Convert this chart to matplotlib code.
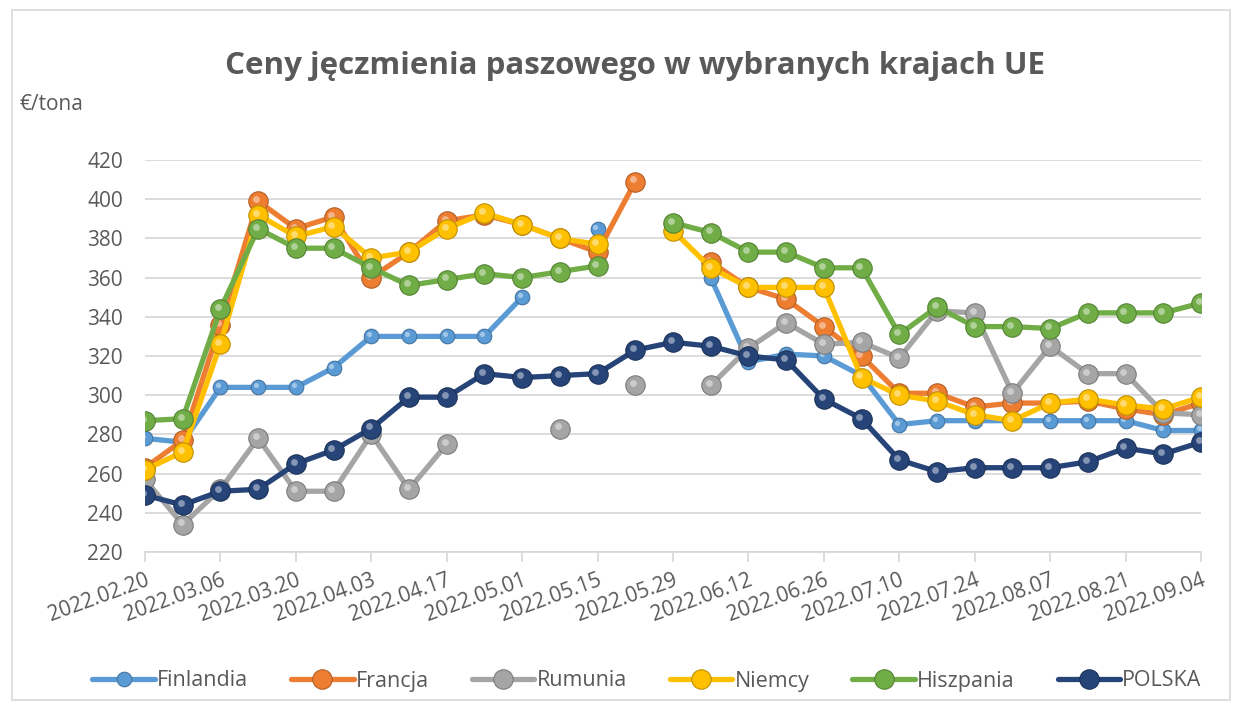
import numpy as np
import matplotlib
matplotlib.use("Agg")
import matplotlib.pyplot as plt
import matplotlib.transforms as mtrans
from matplotlib.patches import Rectangle

nan = np.nan

dates = ["2022.02.20", "2022.02.27", "2022.03.06", "2022.03.13", "2022.03.20", "2022.03.27",
         "2022.04.03", "2022.04.10", "2022.04.17", "2022.04.24", "2022.05.01", "2022.05.08",
         "2022.05.15", "2022.05.22", "2022.05.29", "2022.06.05", "2022.06.12", "2022.06.19",
         "2022.06.26", "2022.07.03", "2022.07.10", "2022.07.17", "2022.07.24", "2022.07.31",
         "2022.08.07", "2022.08.14", "2022.08.21", "2022.08.28", "2022.09.04"]

finlandia = [278, 276, 304, 304, 304, 314, 330, 330, 330, 330, 350, nan, 385, nan, nan,
             360, 317, 321, 320, 310, 285, 287, 287, 287, 287, 287, 287, 282, 282]
francja = [263, 277, 336, 399, 385, 391, 360, 373, 389, 392, 387, 380, 373, 409, nan,
           368, 355, 349, 335, 320, 301, 301, 294, 296, 296, 297, 293, 290, 296]
rumunia = [257, 234, 252, 278, 251, 251, 280, 252, 275, nan, nan, 283, nan, 305, nan,
           305, 324, 337, 326, 327, 319, 343, 342, 301, 325, 311, 311, 291, 290]
niemcy = [262, 271, 326, 392, 381, 386, 370, 373, 385, 393, 387, 380, 377, nan, 384,
          365, 355, 355, 355, 309, 300, 297, 290, 287, 296, 298, 295, 293, 299]
hiszpania = [287, 288, 344, 385, 375, 375, 365, 356, 359, 362, 360, 363, 366, nan, 388,
             383, 373, 373, 365, 365, 331, 345, 335, 335, 334, 342, 342, 342, 347]
polska = [249, 244, 251, 252, 265, 272, 283, 299, 299, 311, 309, 310, 311, 323, 327,
          325, 320, 318, 298, 288, 267, 261, 263, 263, 263, 266, 273, 270, 276]

series = [
    ("Finlandia", finlandia, "#5B9BD5", 10.5),
    ("Francja", francja, "#ED7D31", 14),
    ("Rumunia", rumunia, "#A5A5A5", 14),
    ("Niemcy", niemcy, "#FFC000", 14),
    ("Hiszpania", hiszpania, "#70AD47", 14),
    ("POLSKA", polska, "#264478", 14),
]

yticks = list(range(220, 421, 20))
tick_idx = list(range(0, 29, 2))

plt.rcParams['font.family'] = ['Open Sans', 'DejaVu Sans']

fig = plt.figure(figsize=(12.41, 7.09), dpi=100)
fig.patches.append(Rectangle((12 / 1241, 1 - 700 / 709), 1218 / 1241, 690 / 709,
                             transform=fig.transFigure, fill=False,
                             edgecolor="#D9D9D9", linewidth=1.2))

ax = fig.add_axes([145 / 1241, 1 - 552 / 709, (1201 - 145) / 1241, (552 - 160) / 709])

x = np.arange(len(dates))

def darker(c, f=0.75):
    r, g, b = matplotlib.colors.to_rgb(c)
    return (r * f, g * f, b * f)

def lighter(c, f=0.55):
    r, g, b = matplotlib.colors.to_rgb(c)
    return (r + (1 - r) * f, g + (1 - g) * f, b + (1 - b) * f)

hl_off = mtrans.ScaledTranslation(-1.5 / 72, 1.5 / 72, fig.dpi_scale_trans)

handles = []
for name, vals, col, ms in series:
    v = np.array(vals, dtype=float)
    h, = ax.plot(x, v, color=col, linewidth=3.8, marker="o", markersize=ms,
                 markerfacecolor=col, markeredgecolor=darker(col), markeredgewidth=0.8,
                 solid_capstyle="round", solid_joinstyle="round", zorder=3, label=name)
    ax.plot(x, v, linestyle="none", marker="o", markersize=ms * 0.35,
            markerfacecolor=lighter(col), markeredgecolor="none", alpha=0.8,
            transform=ax.transData + hl_off, zorder=3)
    handles.append(h)

ax.set_xlim(0, 28)
ax.set_ylim(220, 420)
ax.set_yticks(yticks)
ax.set_yticklabels([str(t) for t in yticks])
ax.set_xticks(tick_idx)
ax.set_xticklabels([dates[i] for i in tick_idx], rotation=20, ha="right", va="top",
                   rotation_mode="anchor")
ax.grid(axis="y", color="#D9D9D9", linewidth=1.3, zorder=0)
ax.set_axisbelow(True)
for s in ["top", "right", "left"]:
    ax.spines[s].set_visible(False)
ax.spines["bottom"].set_color("#D9D9D9")
ax.spines["bottom"].set_linewidth(1.3)
ax.tick_params(axis="y", length=0, pad=16, labelsize=15, labelcolor="#595959")
ax.tick_params(axis="x", length=7, width=1.3, color="#D9D9D9", pad=6, labelsize=15,
               labelcolor="#595959")

fig.text(635 / 1241, 1 - 66 / 709, "Ceny jęczmienia paszowego w wybranych krajach UE",
         ha="center", va="center", fontsize=22.5, fontweight="bold", color="#595959")
fig.text(20 / 1241, 1 - 105 / 709, "€/tona", ha="left", va="center", fontsize=15,
         color="#595959")

fig.legend(handles=handles, loc="center", bbox_to_anchor=(647 / 1241, 1 - 681 / 709),
           ncol=6, frameon=False, fontsize=15.5, labelcolor="#595959", handlelength=2.9,
           handletextpad=0.1, columnspacing=2.0)

fig.savefig("out.png", dpi=100)
